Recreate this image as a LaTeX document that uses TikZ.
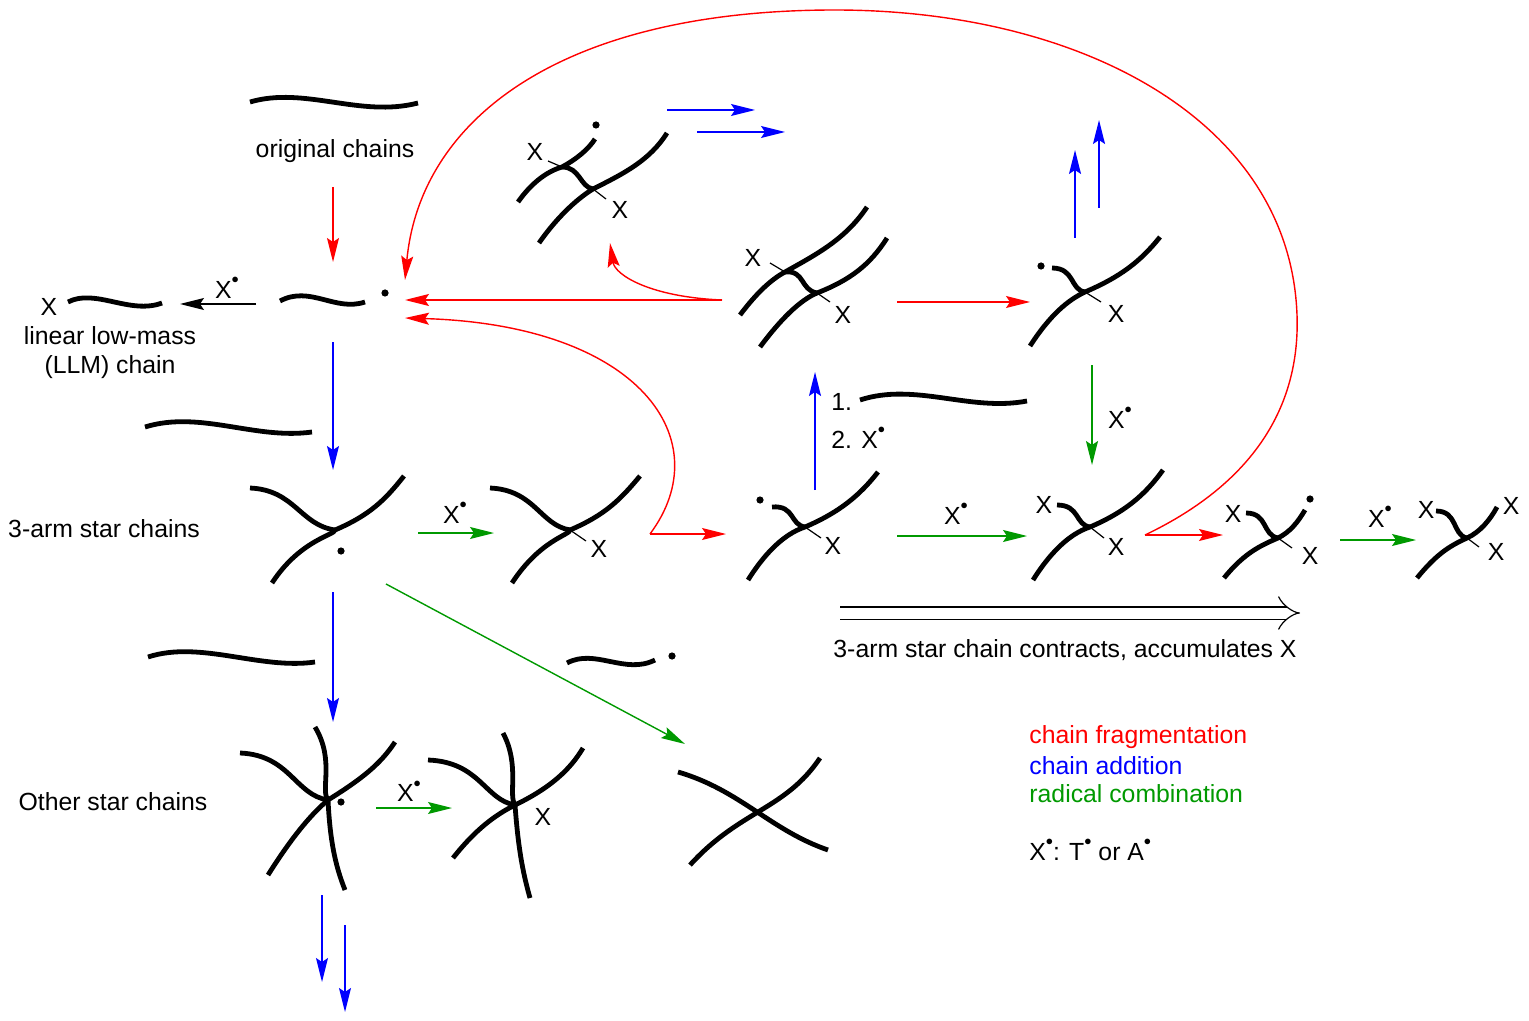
\documentclass[tikz,border=0pt]{standalone}
\usepackage{fontspec}
\setmainfont{Liberation Sans}
\usetikzlibrary{arrows.meta}
\definecolor{rd}{RGB}{255,0,0}
\definecolor{bl}{RGB}{0,0,255}
\definecolor{gr}{RGB}{0,153,0}
\newcommand{\xr}{X\raisebox{1.1ex}{\scalebox{0.6}{$\bullet$}}}
\begin{document}
\begin{tikzpicture}[x=0.5pt,y=-0.5pt,
  ch/.style={line width=2.4pt,line cap=butt},
  tk/.style={line width=0.6pt},
  ar/.style={line width=0.7pt,-{Stealth[length=12pt,width=6pt,inset=2pt]}},
  rad/.style={circle,fill,inner sep=0pt,minimum size=3.6pt},
  lb/.style={font=\fontsize{12.4}{14.5}\selectfont,inner sep=0pt}]
\useasboundingbox (0,0) rectangle (1529,1021);
\tikzset{every node/.style={lb}}
% ---- standalone chains
\draw[ch] (250,102) .. controls (305,86) and (360,118) .. (418,103);
\node at (335,151) {original chains};
\draw[ch] (280,301) .. controls (310,285) and (335,312) .. (365,302);
\node[rad] (r1) at (385,293) {};
\draw[ch] (68,302) .. controls (95,288) and (130,315) .. (162,303);
\node at (49,307) {X};
\node[align=center] at (110,353) {linear low-mass\\(LLM) chain};
\draw[ch] (145,427) .. controls (200,410) and (255,440) .. (312,432);
\draw[ch] (148,657) .. controls (200,640) and (260,670) .. (315,662);
\draw[ch] (860,400) .. controls (915,382) and (970,412) .. (1027,401);
\draw[ch] (567,663) .. controls (595,648) and (625,675) .. (655,660);
\node[rad] at (672,656) {};
\node at (104,529) {3-arm star chains};
\node at (113,802) {Other star chains};
% ---- 3-arm stars
\draw[ch] (272,583) .. controls (300,540) and (335,535) .. (335,530) .. controls (370,515) and (385,500) .. (404,476);
\draw[ch] (250,488) .. controls (295,490) and (300,525) .. (335,530);
\node[rad] at (341,551) {};
\draw[ch] (512,583) .. controls (540,540) and (570,535) .. (570,530) .. controls (605,515) and (620,500) .. (640,476);
\draw[ch] (490,488) .. controls (535,490) and (540,525) .. (570,530);
\draw[tk] (570,530) -- (586,541); \node at (599,549) {X};
\draw[ch] (748,580) .. controls (770,545) and (790,532) .. (805,527) .. controls (840,512) and (860,495) .. (878,472);
\draw[ch] (772,507) .. controls (795,505) and (790,525) .. (805,527);
\node[rad] at (760,500) {};
\draw[tk] (805,527) -- (821,538); \node at (833,546) {X};
\draw[ch] (1033,580) .. controls (1055,545) and (1075,532) .. (1090,527) .. controls (1125,512) and (1145,495) .. (1163,470);
\draw[ch] (1057,505) .. controls (1080,505) and (1075,525) .. (1090,527);
\node at (1044,505) {X};
\draw[tk] (1090,527) -- (1104,538); \node at (1116,547) {X};
\draw[ch] (1224,578) .. controls (1245,552) and (1262,545) .. (1278,538) .. controls (1290,532) and (1298,522) .. (1305,510);
\draw[ch] (1246,513) .. controls (1268,513) and (1262,535) .. (1278,538);
\node[rad] at (1310,499) {};
\node at (1233,514) {X};
\draw[tk] (1278,538) -- (1292,548); \node at (1310,556) {X};
\draw[ch] (1417,578) .. controls (1438,552) and (1452,545) .. (1467,538) .. controls (1480,532) and (1490,520) .. (1497,507);
\draw[ch] (1436,511) .. controls (1458,511) and (1452,535) .. (1467,538);
\node at (1426,510) {X}; \node at (1511,506) {X};
\draw[tk] (1467,538) -- (1479,547); \node at (1496,552) {X};
% top-right star
\draw[ch] (1030,346) .. controls (1050,315) and (1068,300) .. (1085,292) .. controls (1120,277) and (1140,262) .. (1160,237);
\draw[ch] (1052,268) .. controls (1075,268) and (1070,290) .. (1085,292);
\node[rad] at (1041,266) {};
\draw[tk] (1085,292) -- (1101,302); \node at (1116,314) {X};
% ---- double chains
\draw[ch] (740,315) .. controls (755,295) and (770,280) .. (785,272) .. controls (815,255) and (845,240) .. (867,207);
\draw[ch] (760,347) .. controls (780,320) and (800,300) .. (817,293) .. controls (850,280) and (870,265) .. (887,238);
\draw[ch] (785,272) .. controls (805,270) and (800,290) .. (817,293);
\draw[tk] (785,272) -- (770,263); \node at (753,258) {X};
\draw[tk] (817,293) -- (830,302); \node at (843,315) {X};
\draw[ch] (518,202) .. controls (530,185) and (545,172) .. (562,167) .. controls (575,160) and (588,150) .. (595,139);
\node[rad] at (596,125) {};
\draw[ch] (539,243) .. controls (555,220) and (575,200) .. (593,189) .. controls (625,173) and (650,160) .. (667,133);
\draw[ch] (562,167) .. controls (580,167) and (580,187) .. (593,189);
\draw[tk] (562,167) -- (548,161); \node at (535,152) {X};
\draw[tk] (593,189) -- (606,199); \node at (620,210) {X};
% ---- 4-arm stars
\draw[ch] (240,753) .. controls (290,755) and (295,795) .. (328,800);
\draw[ch] (268,875) .. controls (290,840) and (310,815) .. (328,800) .. controls (360,780) and (380,765) .. (395,742);
\draw[ch] (315,727) .. controls (335,760) and (320,790) .. (328,800) .. controls (330,840) and (335,865) .. (345,890);
\node[rad] at (341,802) {};
\draw[ch] (428,760) .. controls (480,762) and (485,800) .. (515,805);
\draw[ch] (453,858) .. controls (475,830) and (495,815) .. (515,805) .. controls (550,788) and (570,770) .. (583,748);
\draw[ch] (503,733) .. controls (520,765) and (508,795) .. (515,805) .. controls (518,845) and (522,870) .. (530,898);
\node at (543,817) {X};
\draw[ch] (678,772) .. controls (740,790) and (770,830) .. (828,850);
\draw[ch] (690,865) .. controls (740,810) and (785,810) .. (820,758);
% ---- arrows
\coordinate (a1) at (333,187); \coordinate (a2) at (333,262);
\draw[ar,rd] (a1) -- (a2);
\coordinate (b1) at (256,304); \coordinate (b2) at (180,304);
\draw[ar] (b1) -- (b2); \node at (227,288) {\xr};
\coordinate (c1) at (333,342); \coordinate (c2) at (333,470);
\draw[ar,bl] (c1) -- (c2);
\coordinate (d1) at (418,533); \coordinate (d2) at (494,533);
\draw[ar,gr] (d1) -- (d2); \node at (455,513) {\xr};
\coordinate (e1) at (650,534); \coordinate (e2) at (726,534);
\draw[ar,rd] (e1) -- (e2);
\coordinate (e3) at (405,318);
\draw[ar,rd] (e1) .. controls (720,440) and (640,325) .. (e3);
\coordinate (f1) at (722,300); \coordinate (f2) at (405,300);
\draw[ar,rd] (f1) -- (f2);
\coordinate (f3) at (610,243);
\draw[ar,rd] (f1) .. controls (650,297) and (615,275) .. (f3);
\coordinate (g1) at (897,302); \coordinate (g2) at (1030,302);
\draw[ar,rd] (g1) -- (g2);
\coordinate (h1) at (815,490); \coordinate (h2) at (815,372);
\draw[ar,bl] (h1) -- (h2);
\node[anchor=west] at (831,402) {1.};
\node[anchor=west] at (831,438) {2. \xr};
\coordinate (i1) at (1075,238); \coordinate (i2) at (1075,150);
\draw[ar,bl] (i1) -- (i2);
\coordinate (i3) at (1099,208); \coordinate (i4) at (1099,120);
\draw[ar,bl] (i3) -- (i4);
\coordinate (j1) at (667,110); \coordinate (j2) at (755,110);
\draw[ar,bl] (j1) -- (j2);
\coordinate (j3) at (697,132); \coordinate (j4) at (785,132);
\draw[ar,bl] (j3) -- (j4);
\coordinate (k1) at (1092,365); \coordinate (k2) at (1092,465);
\draw[ar,gr] (k1) -- (k2); \node at (1120,418) {\xr};
\coordinate (l1) at (897,536); \coordinate (l2) at (1027,536);
\draw[ar,gr] (l1) -- (l2); \node at (956,514) {\xr};
\coordinate (m1) at (1145,535); \coordinate (m2) at (1223,535);
\draw[ar,rd] (m1) -- (m2);
\coordinate (m3) at (405,280);
\draw[ar,rd] (m1) .. controls (1260,480) and (1300,400) .. (1297,315) .. controls (1290,120) and (1080,10) .. (835,10) .. controls (560,10) and (420,120) .. (m3);
\coordinate (n1) at (1340,540); \coordinate (n2) at (1416,540);
\draw[ar,gr] (n1) -- (n2); \node at (1380,517) {\xr};
\coordinate (o1) at (386,584); \coordinate (o2) at (685,744);
\draw[ar,gr] (o1) -- (o2);
\coordinate (p1) at (333,592); \coordinate (p2) at (333,722);
\draw[ar,bl] (p1) -- (p2);
\coordinate (q1) at (376,808); \coordinate (q2) at (452,808);
\draw[ar,gr] (q1) -- (q2); \node at (409,791) {\xr};
\coordinate (s1) at (322,895); \coordinate (s2) at (322,982);
\draw[ar,bl] (s1) -- (s2);
\coordinate (s3) at (345,925); \coordinate (s4) at (345,1012);
\draw[ar,bl] (s3) -- (s4);
\coordinate (t1) at (840,613); \coordinate (t2) at (1300,613);
\draw[line width=0.6pt,double distance=5.5pt,-{Implies[length=9pt]}] (t1) -- (t2);
\node at (1065,650) {3-arm star chain contracts, accumulates X};
% legend
\node[anchor=west,text=rd] at (1029,737) {chain fragmentation};
\node[anchor=west,text=bl] at (1029,766) {chain addition};
\node[anchor=west,text=gr] at (1029,794) {radical combination};
\node[anchor=west] at (1029,850) {\xr: T\raisebox{1.1ex}{\scalebox{0.6}{$\bullet$}} or A\raisebox{1.1ex}{\scalebox{0.6}{$\bullet$}}};
\end{tikzpicture}
\end{document}
